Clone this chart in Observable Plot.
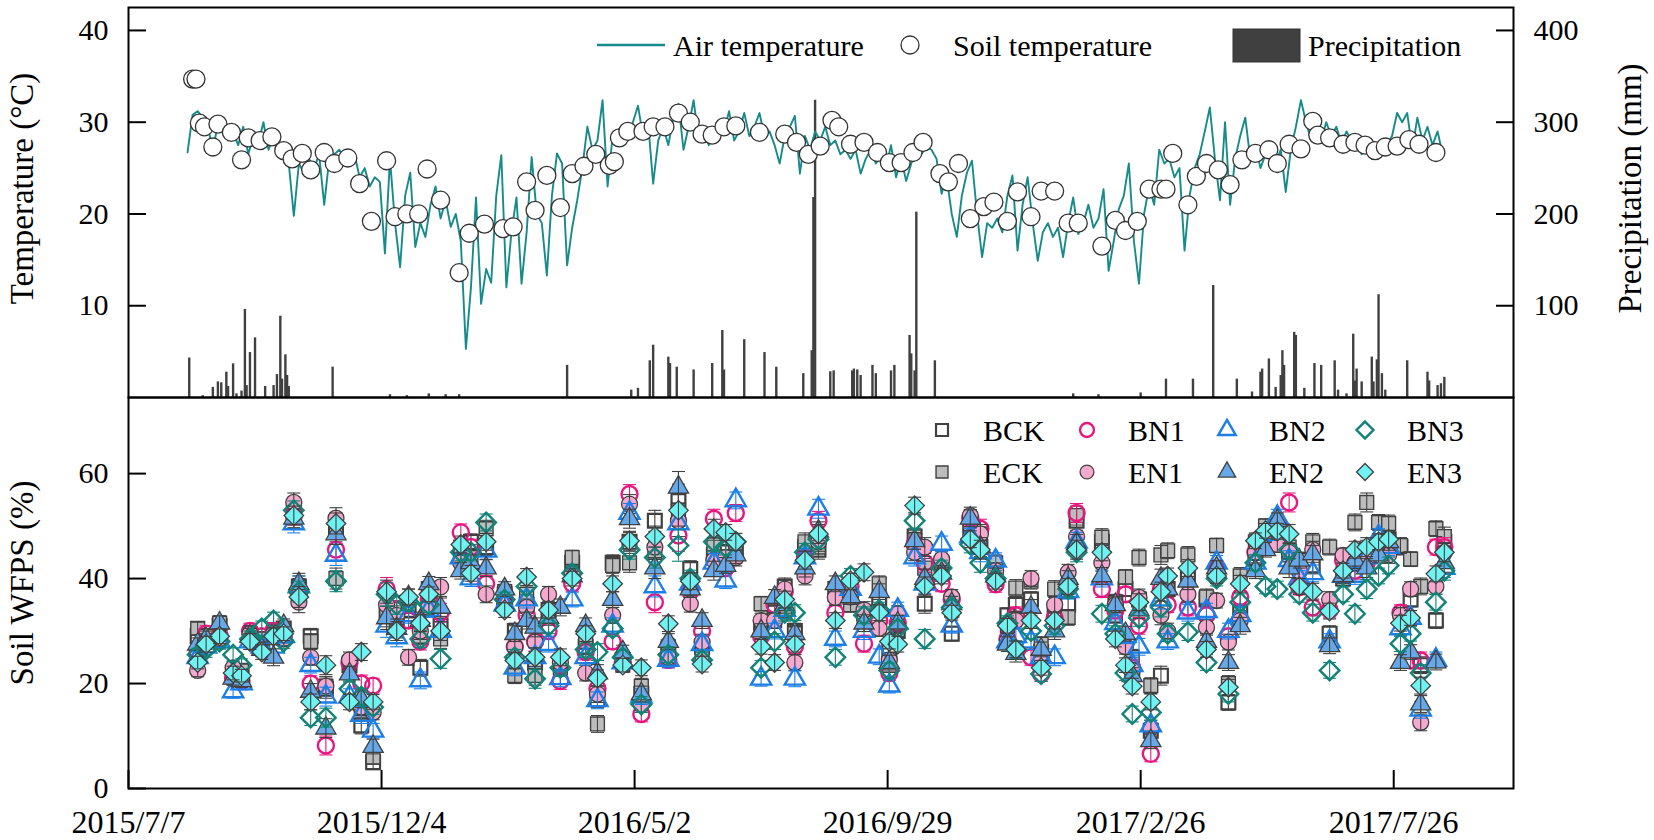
<!DOCTYPE html>
<html><head><meta charset="utf-8">
<script src="https://cdn.jsdelivr.net/npm/d3@7"></script>
<script src="https://cdn.jsdelivr.net/npm/@observablehq/plot@0.6"></script>
<style>
body{margin:0;background:#fff;}
#wrap{position:relative;width:1654px;height:840px;overflow:hidden;background:#fff;}
#wrap svg{position:absolute;left:0;}
#wrap svg, #wrap svg text{font-family:"Liberation Serif","Tinos","Times New Roman","DejaVu Serif","Noto Serif",serif !important;}
</style></head><body><div id="wrap"></div>
<script>
// ---------- DATA ----------
const startDate = "2015-07-07";           // day 0 of the study
const endDate = "2017-10-05";             // right edge of the axis
const xTickDays = [0, 150, 300, 450, 600, 750];
const tempTicks = [10, 20, 30, 40];
const wfpsTicks = [0, 20, 40, 60];

// Air temperature (°C), one reading every 3 days from day 35
const airStartDay = 35, airStepDays = 3;
const airTemp = [26.7,30.8,31.2,30.5,29.5,27.0,29.8,30.5,28.0,29.0,27.5,29.5,26.5,28.5,27.8,30.0,27.0,28.5,26.5,27.5,
25.5,19.8,25.5,24.5,26.0,25.0,26.5,21.0,26.0,26.5,27.0,26.0,27.0,26.5,24.0,25.0,23.0,24.0,23.5,15.7,
26.0,19.0,14.2,22.0,24.5,16.4,19.0,17.5,21.0,23.0,19.5,21.5,18.6,20.0,17.0,5.3,12.0,21.8,10.2,14.0,
12.5,22.0,26.4,12.0,18.0,21.8,12.4,18.0,26.2,20.0,19.0,13.3,22.0,26.6,25.5,14.4,18.5,21.5,25.0,29.5,
27.0,28.0,32.4,23.0,28.5,27.5,29.0,28.0,30.0,31.8,28.5,30.0,23.3,28.0,29.5,27.5,30.5,32.0,27.0,29.5,
32.4,28.0,29.0,27.5,28.5,30.0,29.0,31.2,28.0,29.0,31.0,28.5,29.5,31.0,28.5,29.0,27.5,25.5,28.5,29.5,
30.7,24.4,28.5,27.0,29.0,28.0,29.5,27.5,28.0,26.5,27.0,26.0,27.0,24.4,26.0,27.0,25.5,26.5,25.0,27.5,
24.0,26.0,23.6,25.5,27.0,26.5,27.3,27.0,26.0,22.2,24.0,20.0,17.5,22.0,24.5,25.8,20.0,15.3,19.0,18.5,
19.5,18.0,22.0,24.2,16.0,21.0,24.0,19.0,14.9,18.0,19.0,17.5,18.5,15.3,19.0,21.8,17.8,19.0,21.0,18.5,
19.5,22.7,13.8,17.0,20.5,22.0,25.5,17.0,12.4,20.0,23.0,21.0,27.0,25.5,26.0,24.0,25.0,16.0,22.0,25.0,
26.5,29.0,31.6,26.0,21.5,30.0,21.0,26.0,28.5,30.5,26.0,27.5,25.0,26.5,27.6,25.5,27.0,22.4,27.0,29.5,
32.4,30.0,28.0,29.5,28.0,30.0,28.5,29.5,27.7,29.0,28.0,28.5,26.5,27.5,26.0,27.0,26.5,27.5,28.5,31.0,
30.0,31.0,27.0,30.5,28.0,29.5,27.5,29.0,26.5];

// Soil temperature (°C)
const soilDays = [38,40,42,45,50,53,61,67,71,78,85,92,97,103,108,116,122,130,137,144,153,158,165,172,177,185,196,202,211,222,
228,236,241,248,256,263,270,277,285,288,291,296,305,311,318,326,333,340,346,353,360,374,389,396,403,410,417,421,428,436,
444,451,458,465,471,481,486,492,499,507,513,521,527,535,541,549,557,563,577,585,591,598,605,612,615,619,628,633,639,646,
653,660,668,676,681,688,695,702,705,712,720,727,733,739,745,752,759,765,775];
const soilTemp = [34.7,34.7,29.9,29.5,27.3,29.8,28.9,25.9,28.3,28.0,28.4,26.9,26.0,26.6,24.8,26.7,25.5,26.1,23.3,19.2,
25.8,19.7,20.0,20.0,24.9,21.5,13.6,17.9,18.9,18.4,18.6,23.5,20.4,24.2,20.7,24.4,25.2,26.5,25.3,25.7,
28.3,29.0,29.0,29.5,29.5,31.0,30.0,28.7,28.6,29.5,29.6,28.9,28.7,27.8,26.5,27.4,30.2,29.5,27.6,27.8,
26.7,25.6,25.6,26.7,27.8,24.4,23.5,25.5,19.5,20.8,21.3,19.2,22.4,19.7,22.5,22.5,19.0,19.0,16.5,19.3,
18.2,19.2,22.7,22.7,22.7,26.6,21.0,24.1,25.5,24.8,23.2,25.9,26.6,27.0,25.5,27.6,27.1,30.1,28.6,28.3,
27.6,27.8,27.5,26.9,27.3,27.4,28.1,27.6,26.7];

// Precipitation (mm)
const precipDays = [36,44,50,53,55,58,59,62,64,67,69,70,72,75,81,86,88,90,91,93,94,95,121,155,165,178,188,196,260,298,
302,309,311,320,321,325,335,346,352,353,365,377,384,400,405,406,407,416,418,429,430,432,434,441,443,452,454,463,464,466,
467,478,560,575,600,615,631,643,657,666,671,672,676,680,683,684,685,691,692,697,703,707,715,717,722,726,727,728,731,737,
738,740,741,743,745,758,770,771,776,778,780];
const precipMm = [43,2,11,17,16,27.6,12,36.7,4,7,96,13,49,65,12,13,25,88.6,20,46.5,24,12,33,3,2,4,3,3,35,8,
10,40,57,44,37,33,30,37,73,30,63,49,33,26,51,218,324,28,29,29,31,30,24,35,26,29,35,67.6,47.6,29,
202,40,4,3,5,20,20,122,20,6,27.6,31,42,11,24,51,35,71,67.6,10,37,35,40,8,4,69,18,31,17,44,
17,41,112,26,8,40,27.6,18,13,15,22];

// Soil WFPS (%) sampling days and treatment means
const wfpsDays = [41,46,54,62,67,72,79,86,92,98,101,108,117,123,131,138,145,153,159,166,
173,178,185,197,203,212,223,229,236,241,249,256,263,271,278,287,293,297,304,312,
320,326,333,340,347,354,360,375,383,389,395,401,409,419,428,436,445,451,456,466,
472,482,488,499,505,514,521,526,535,541,549,557,562,577,585,591,595,599,606,612,
616,628,639,645,652,659,668,674,681,688,694,702,712,720,727,734,741,747,754,760,766,775,780];
const BCK = [29,28.5,31,22,21.5,29,28,29.5,30.5,52.5, 38.5,29,19,49,23.5,12,5,33,31,34, 23,38,31,45,47,46,37,30,35,24,
34,24,43,27,17,43,24.5,47,18,51, 26.5,55,41.8,27,44.5,45,46,31,33.5,38.5, 30,46,45.5,38,36.5,33.5,36,26.5,30,48,
35.2,42.5,29.5,49,46,41,33,35,36,26, 33,35,51,47,35.5,38,22,36,11,21.5, 38,40,36,41.5,16.4,33.5,44,48,46.5,45,
43.5,42.5,29.5,40,44.5,45.5,46,47.5,46,36, 23.5,32,47];
const ECK = [30.5,29,31.5,21.5,22.5,29.5,28.5,30,30,53, 38,28,19.5,40,24,15.5,6,34,32,35, 29,37.5,28.5,46,44,49.5,37.5,21.5,37,21.5,
33,23,44,28,12.3,42.5,23.5,43,19.5,45, 27,53,38.5,25,46,43.5,45,35.2,32,33.9, 29.5,47,46,37,35,32.5,39,23.5,31,47.2,
42,43,34,50.5,48.5,43,31,38.2,39.5,27.5, 38,32.6,52,47.9,33,40.3,25,44,19.6,44.5, 45.3,44.5,36.5,46.3,20,40.5,47,50,48,46,
42,47,46,41,50.7,54.5,50.7,50.5,46.3,43.7, 38.5,49.5,48];
const BN1 = [26,29.5,29,21,20.5,30,29,30,29,52, 37,20,8.2,45.5,24,20,19.6,38,34,32, 28,36,33.5,48.8,46,39,36,27,33,28,
30,20.5,39,26,19,28,24,56.1,14.2,35.5, 24.5,48.2,37.5,30,51.4,42,52.5,29,35,37.5, 27,44,51,33.5,38.5,27.6,32,22,31.5,46.5,
43,39,36,51.5,49.5,38.9,28.5,33,25,21.8, 32.5,39,52.5,38,33.9,37,23,31,6.6,38, 35,34.5,33,42,29,36.5,45,46.5,47.5,54.5,
38.4,34.5,34,43.5,41.5,43,46.5,45.5,33.5,24.4, 24.4,46,46];
const EN1 = [22.5,28,28.5,23,21,29.5,27,29.5,28.5,54.5, 35.5,25,19.5,51.5,24.5,15.5,14.5,35,33,25, 30,34.5,38.4,43,42,37,35,27,34.5,27.9,
37,24,41,22,18,33,23.7,54.2,16,46, 25,51,35.2,27.9,43.5,44,44,32,32,38, 24,40.5,47,36.4,36.5,34,30.5,24.5,33.3,45,
46,43.7,36.5,52,48.5,41.5,28.2,32,40,25, 35,41.2,48,43,35,27,22.5,36.4,11.5,33, 30,37,30.7,35.8,27.9,32,45,47,46.5,45,
41.5,45.5,36,44.4,43,44.5,47,44.5,33,38, 12.6,38.5,45];
const BN2 = [25,27,28,18.5,20,28,27,27,29,50.5, 38.5,23.5,17.5,44.5,17.5,14,11,31,28.8,33, 20.6,34,30,44,40,45.3,35,23,36,25,
27.5,21,36,25,16.8,31,24,52.5,17.5,38.5, 24.5,50.5,39,27.5,43,39.6,54.9,20.9,30,34, 20.9,44,53.3,28.5,38,30,25.1,19.6,34,44,
39,46.6,31,48,45,43.4,28,29,28,25, 25,37.6,47,40,31.5,29,23.5,27,12,36, 28,33.5,33.8,43,30,33,43,48.5,51.7,43.5,
40,41,28,40.5,40.5,44,48,46,30.5,32.5, 15,24.5,42];
const EN2 = [27.5,28.5,31.5,21,20.5,29,26.5,25,31,51.5, 39,18.5,11.5,48.5,21.8,17,8,32.5,30.5,36.5, 32,39,34.5,41.5,43,42,38,29.5,32,30.7,
32.6,34.5,40.5,31,22,36,26,51.4,18,42, 28,57.4,38,32,41.5,42.5,44.5,30,36.4,35, 29.5,42,49,39,36.5,31.5,37.5,24,31.5,47.2,
40,41,35.2,51.5,46,40.5,27.5,25.7,34.5,26.5, 30,40,46.6,40.5,35,29.5,21.5,34,9.1,40, 38,39.5,28,42,24,31,41.5,45.5,51,42,
43.5,44.7,27.2,40.5,43.5,42,44.5,47,24,26, 16.1,24.1,43];
const BN3 = [25.5,26.5,28,25.5,23.5,28.5,30.5,32,28,53, 37.5,13.5,13.5,39.5,19,17.5,15.5,37,35,35.5, 28.5,35,24.7,45,45,50.7,36,25,38.5,20.9,
31,23,41,26.5,26,30.5,25,45.5,16,44, 25.5,46.3,40,24.5,47,46,47,23,28,33.5, 33.5,45,47.5,25,40.5,33,34,22.5,30.5,51,
28.5,42,34.5,46.5,43,40,31.5,26.5,30,21.8, 31,38,45,33.3,29.5,22,14.2,32.5,14.5,34.5, 29.5,29.8,24,40,18,35.5,43,38.5,38,45.5,
37,33.5,22.5,37,33.3,38,40.5,42.5,27.6,29.5, 22,35.5,41.5];
const EN3 = [24,27.5,29,22,21.5,28,26,29,29.5,52, 36.5,16.5,23.5,50.5,16.5,26,16.5,37.5,30,36.5, 31.5,37,30,46.5,41,47,34,24.4,40.3,25,
34,25,40,29.5,21,39,23.5,47.2,23,48, 31.4,53,39.5,23.7,49.5,48.8,47,27,24,36, 27.5,43.5,48.5,32,39.6,41.2,33.5,28,27.5,53.9,
38.5,40.5,33.5,47.5,45.5,39.5,31,26.5,32,23, 32,38.5,45.5,45,28.5,23.5,19.5,35.5,16.5,37.5, 40.5,42,26.5,40.5,19.3,39,47.2,49.1,49,48.5,
38.5,37.5,33.8,41.5,45.5,46,47,47.5,31.5,32.5, 19.6,40.9,45];
// standard error per sampling day (approximate)
const wfpsErr = [1.2,1.5,1.4,1.3,1.2,1.5,1.4,1.6,1.3,1.8, 2.0,1.5,1.8,2.0,1.5,1.6,1.4,2.2,1.8,1.5,
1.6,1.4,1.8,1.6,1.5,1.6,1.4,1.5,1.6,1.8, 1.5,1.6,1.4,1.5,1.6,1.5,1.3,1.8,1.5,2.0,
1.5,3.0,1.6,1.5,1.8,1.5,1.6,1.4,1.5,1.6, 1.5,1.7,1.8,1.5,1.4,1.6,1.5,1.4,1.5,1.6,
1.8,1.5,1.4,1.6,1.8,1.5,1.4,1.6,1.5,1.4, 1.6,1.5,1.8,1.6,1.5,1.4,1.5,1.6,1.5,1.8,
1.5,1.6,1.5,1.4,1.5,1.6,1.5,1.4,1.5,1.8, 1.5,1.6,1.5,1.4,1.6,1.8,1.5,1.6,1.5,1.4, 1.6,1.5,1.8];

const seriesNames = ["BCK","ECK","BN1","EN1","BN2","EN2","BN3","EN3"];
const seriesValues = [BCK, ECK, BN1, EN1, BN2, EN2, BN3, EN3];

// ---------- STYLES ----------
const FONT = '"Liberation Serif", Tinos, "Times New Roman", "DejaVu Serif", "Noto Serif", serif';
const TEAL = "#178a8a";
const DARK = "#404040";
const styles = {
  BCK: {symbol:"square",   r:7.8, fill:"none",    stroke:DARK,      sw:2.2, err:DARK},
  ECK: {symbol:"square",   r:7.8, fill:"#bdbdbd", stroke:DARK,      sw:1.4, err:DARK},
  BN1: {symbol:"circle",   r:8.0, fill:"none",    stroke:"#e8177f", sw:2.4, err:"#e8177f"},
  EN1: {symbol:"circle",   r:8.0, fill:"#f5a9cf", stroke:DARK,      sw:1.3, err:DARK},
  BN2: {symbol:"triangle", r:7.5, fill:"none",    stroke:"#1d7fe6", sw:2.4, err:"#1d7fe6"},
  EN2: {symbol:"triangle", r:7.5, fill:"#66a9ea", stroke:DARK,      sw:1.3, err:DARK},
  BN3: {symbol:"diamond2", r:8.8, fill:"none",    stroke:"#138377", sw:2.4, err:"#138377"},
  EN3: {symbol:"diamond2", r:8.8, fill:"#6ef2f2", stroke:DARK,      sw:1.3, err:DARK}
};

const t0 = new Date(startDate + "T00:00:00Z");
const tEnd = new Date(endDate + "T00:00:00Z");
const dayDate = d => d3.utcDay.offset(t0, d);

const air = airTemp.map((v, i) => ({date: dayDate(airStartDay + i * airStepDays), v}));
const soil = soilDays.map((d, i) => ({date: dayDate(d), v: soilTemp[i]}));
const precip = precipDays.map((d, i) => ({date: dayDate(d), mm: precipMm[i]}));
const xTicks = xTickDays.map(dayDate);

const capSymbol = {draw(ctx) { ctx.moveTo(-6.5, 0); ctx.lineTo(6.5, 0); }};
const wrap = document.getElementById("wrap");
const txt = {fontFamily: FONT};

// ---------- TOP PANEL ----------
const topPlot = Plot.plot({
  width: 1654, height: 400,
  marginLeft: 128, marginRight: 141, marginTop: 7, marginBottom: 3,
  x: {type: "utc", domain: [t0, tEnd], axis: null},
  y: {domain: [0, 42.5], axis: null},
  style: {fontFamily: FONT, fontSize: "30px", background: "transparent", overflow: "visible"},
  marks: [
    Plot.ruleX(precip, {x: "date", y1: 0, y2: d => d.mm / 10, stroke: DARK, strokeWidth: 2.4}),
    Plot.line(air, {x: "date", y: "v", stroke: TEAL, strokeWidth: 1.9}),
    Plot.dot(soil, {x: "date", y: "v", r: 9, fill: "white", stroke: "#333", strokeWidth: 1.3}),
    Plot.axisY(tempTicks, {...txt, anchor: "left", label: null, tickSize: -18, tickPadding: 38, strokeWidth: 2, fontSize: 30}),
    Plot.axisY(tempTicks, {...txt, anchor: "right", label: null, tickSize: -18, tickPadding: 38, strokeWidth: 2, fontSize: 30, tickFormat: d => String(d * 10)}),
    Plot.text(["Temperature (°C)"], {...txt, text: d => d, frameAnchor: "left", textAnchor: "middle", dx: -106, dy: -14, rotate: -90, fontSize: 33}),
    Plot.text(["Precipitation (mm)"], {...txt, text: d => d, frameAnchor: "right", textAnchor: "middle", dx: 117, dy: -14, rotate: -90, fontSize: 33}),
    Plot.frame({stroke: "black", strokeWidth: 2})
  ]
});
topPlot.style.top = "0px";
wrap.appendChild(topPlot);

// ---------- BOTTOM PANEL ----------
const bottomMarks = [];
seriesNames.forEach((name, k) => {
  const s = styles[name];
  const rows = wfpsDays.map((d, i) => ({date: dayDate(d), v: seriesValues[k][i], e: wfpsErr[i]}));
  bottomMarks.push(
    Plot.dot(rows, {x: "date", y: "v", symbol: s.symbol, r: s.r, fill: s.fill, stroke: s.stroke, strokeWidth: s.sw}),
    Plot.ruleX(rows, {x: "date", y1: d => d.v - d.e, y2: d => d.v + d.e, stroke: s.err, strokeWidth: 1.1}),
    Plot.dot(rows, {x: "date", y: d => d.v + d.e, symbol: capSymbol, r: 3, fill: "none", stroke: s.err, strokeWidth: 1.1}),
    Plot.dot(rows, {x: "date", y: d => d.v - d.e, symbol: capSymbol, r: 3, fill: "none", stroke: s.err, strokeWidth: 1.1})
  );
});
const bottomPlot = Plot.plot({
  width: 1654, height: 446,
  marginLeft: 128, marginRight: 141, marginTop: 3, marginBottom: 52,
  x: {type: "utc", domain: [t0, tEnd]},
  y: {domain: [0, 74.5]},
  style: {fontFamily: FONT, fontSize: "30px", background: "transparent", overflow: "visible"},
  marks: [
    ...bottomMarks,
    Plot.axisY(wfpsTicks, {...txt, anchor: "left", label: null, tickSize: -18, tickPadding: 38, strokeWidth: 2, fontSize: 30}),
    Plot.axisX(xTicks, {...txt, anchor: "bottom", label: null, tickSize: -18, tickPadding: 40, strokeWidth: 2, fontSize: 32, tickFormat: d3.utcFormat("%Y/%-m/%-d")}),
    Plot.text(["Soil WFPS (%)"], {...txt, text: d => d, frameAnchor: "left", textAnchor: "middle", dx: -106, dy: -10, rotate: -90, fontSize: 33}),
    Plot.frame({stroke: "black", strokeWidth: 2})
  ]
});
bottomPlot.style.top = "394px";
wrap.appendChild(bottomPlot);

// ---------- LEGENDS ----------
const lg = d3.select(wrap).append("svg")
  .attr("width", 1654).attr("height", 840)
  .style("top", "0px").style("pointer-events", "none")
  .attr("font-family", FONT).style("font-size", "30px");
// top legend
lg.append("line").attr("x1", 597).attr("x2", 665).attr("y1", 45).attr("y2", 45).attr("stroke", TEAL).attr("stroke-width", 2.5);
lg.append("text").attr("x", 673).attr("y", 56).text("Air temperature");
lg.append("circle").attr("cx", 910).attr("cy", 45).attr("r", 9).attr("fill", "white").attr("stroke", "#333").attr("stroke-width", 1.3);
lg.append("text").attr("x", 953).attr("y", 56).text("Soil temperature");
lg.append("rect").attr("x", 1233).attr("y", 29).attr("width", 67).attr("height", 33).attr("fill", DARK).attr("stroke", "#333");
lg.append("text").attr("x", 1308).attr("y", 56).text("Precipitation");
// bottom legend
const symMap = {square: d3.symbolSquare, circle: d3.symbolCircle, triangle: d3.symbolTriangle, diamond2: d3.symbolDiamond2};
const legCols = [[942, 983], [1087, 1128], [1227, 1269], [1365, 1407]];
const legRows = [[430, 441], [472, 483]];
seriesNames.forEach((name, k) => {
  const s = styles[name];
  const col = legCols[Math.floor(k / 2)], row = legRows[k % 2];
  const path = d3.symbol(symMap[s.symbol], Math.PI * s.r * s.r * 0.75)();
  lg.append("path").attr("d", path).attr("transform", `translate(${col[0]},${row[0]})`)
    .attr("fill", s.fill).attr("stroke", s.stroke).attr("stroke-width", s.sw);
  lg.append("text").attr("x", col[1]).attr("y", row[1]).text(name);
});
</script>
</body></html>
